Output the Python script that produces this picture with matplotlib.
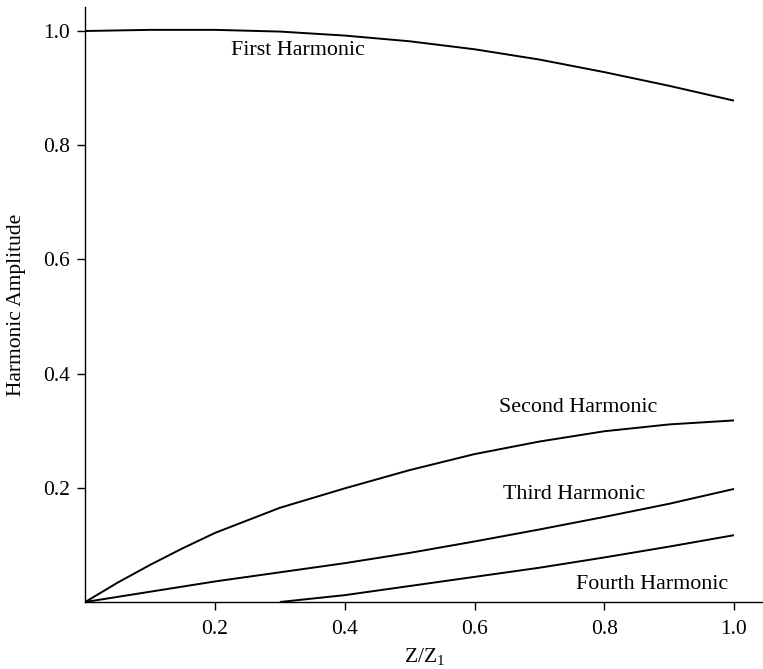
import matplotlib
matplotlib.use("Agg")
import matplotlib.pyplot as plt

plt.rcParams['font.family'] = ['Liberation Serif', 'DejaVu Serif']
plt.rcParams['mathtext.fontset'] = 'custom'
plt.rcParams['mathtext.rm'] = 'Liberation Serif'

z = [0.0, 0.05, 0.1, 0.15, 0.2, 0.3, 0.4, 0.5, 0.6, 0.7, 0.8, 0.9, 1.0]
first = [1.0, 1.001, 1.002, 1.002, 1.002, 0.999, 0.992, 0.982, 0.968, 0.950, 0.928, 0.904, 0.878]
second = [0.0, 0.034, 0.065, 0.094, 0.121, 0.165, 0.199, 0.231, 0.259, 0.281, 0.299, 0.311, 0.318]
third = [0.0, 0.009, 0.018, 0.027, 0.036, 0.052, 0.068, 0.086, 0.106, 0.127, 0.149, 0.172, 0.198]
z4 = [0.3, 0.35, 0.4, 0.5, 0.6, 0.7, 0.8, 0.9, 1.0]
fourth = [0.0, 0.006, 0.012, 0.028, 0.044, 0.060, 0.078, 0.097, 0.117]

xticks = [0.2, 0.4, 0.6, 0.8, 1.0]
yticks = [0.2, 0.4, 0.6, 0.8, 1.0]
labels = ["First Harmonic", "Second Harmonic", "Third Harmonic", "Fourth Harmonic"]

W, H = 763, 669
fig = plt.figure(figsize=(W / 100, H / 100), dpi=100)
left, right, bottom, top = 85.25, 763.5, 602, 7
ax = fig.add_axes([left / W, (H - bottom) / H, (right - left) / W, (bottom - top) / H])

for xs, ys in [(z, first), (z, second), (z, third), (z4, fourth)]:
    ax.plot(xs, ys, color='black', lw=1.4, solid_capstyle='butt', solid_joinstyle='round')

ax.set_xlim(0, (right - left) / 648.75)
ax.set_ylim(0, (bottom - top) / 571.0)
ax.set_xticks(xticks)
ax.set_xticklabels([f"{v:.1f}" for v in xticks])
ax.set_yticks(yticks)
ax.set_yticklabels([f"{v:.1f}" for v in yticks])
ax.spines['top'].set_visible(False)
ax.spines['right'].set_visible(False)
for s in ['left', 'bottom']:
    ax.spines[s].set_linewidth(1.0)
ax.tick_params(axis='both', direction='out', length=6, width=1.0, labelsize=15.5, colors='black')
ax.tick_params(axis='x', pad=7)
ax.tick_params(axis='y', pad=5)

ax.set_xlabel(r"$\mathregular{Z/Z_1}$", fontsize=15.5, labelpad=5)
ax.set_ylabel("Harmonic Amplitude", fontsize=15.5, labelpad=12)

ax.text(0.328, 0.965, labels[0], fontsize=15.8, ha='center', va='center')
ax.text(0.760, 0.340, labels[1], fontsize=15.8, ha='center', va='center')
ax.text(0.754, 0.189, labels[2], fontsize=15.8, ha='center', va='center')
ax.text(0.873, 0.031, labels[3], fontsize=15.8, ha='center', va='center')

fig.savefig("out.png", dpi=100)
